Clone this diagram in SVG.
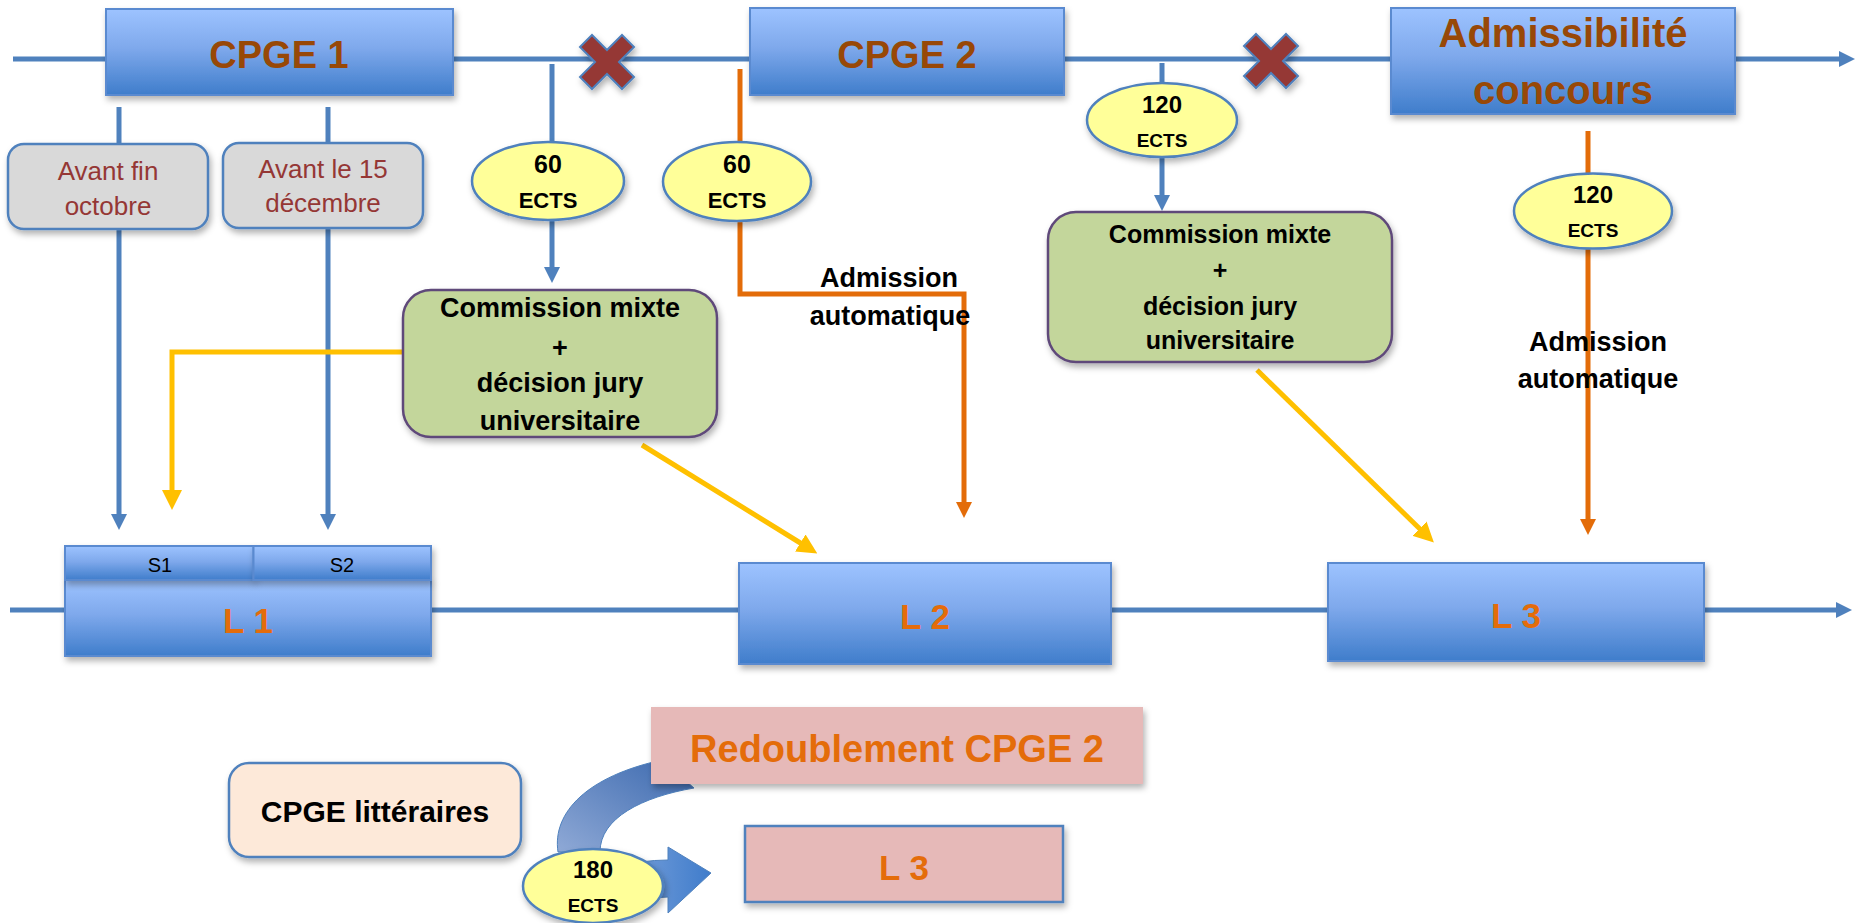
<svg xmlns="http://www.w3.org/2000/svg" width="1862" height="923" viewBox="0 0 1862 923">
<defs>
<style>
text{font-family:"Liberation Sans",Arial,sans-serif;text-anchor:middle}
.b{font-weight:bold}
.ln{fill:none;stroke-width:5;stroke-linejoin:miter}
.blue{stroke:#4F81BD}
.org{stroke:#E36C09}
.yel{stroke:#FFC000}
.box{fill:url(#gBlue);stroke:#5A8AD0;stroke-width:2;filter:url(#sh)}
.grey{fill:#D9D9D9;stroke:#4F81BD;stroke-width:2.5;filter:url(#sh)}
.ell{fill:#FFFF99;stroke:#4F81BD;stroke-width:2.5;filter:url(#sh)}
.comm{fill:#C3D69B;stroke:#5F497A;stroke-width:2.5;filter:url(#sh)}
.cross{fill:#953735;stroke:#4F81BD;stroke-width:2;filter:url(#sh)}
.pink{fill:#E6B9B8;filter:url(#sh)}
.tTop{fill:#984807;font-weight:bold}
.tL{fill:#E46C0A;font-weight:bold}
.tGrey{fill:#953735;font-size:26px}
.tBlk{fill:#000;font-weight:bold}
</style>
<linearGradient id="gBlue" x1="0" y1="0" x2="0" y2="1">
<stop offset="0" stop-color="#9DC3FF"/>
<stop offset="0.45" stop-color="#7FA9EC"/>
<stop offset="1" stop-color="#3F7DCB"/>
</linearGradient>
<linearGradient id="gCurve" x1="0" y1="1" x2="1" y2="0">
<stop offset="0" stop-color="#8FA9D6"/>
<stop offset="1" stop-color="#3A68AE"/>
</linearGradient>
<linearGradient id="gStraight" x1="0" y1="0" x2="1" y2="0">
<stop offset="0" stop-color="#6E9AD8"/>
<stop offset="1" stop-color="#3F7CCB"/>
</linearGradient>
<filter id="sh" x="-10%" y="-10%" width="125%" height="140%">
<feDropShadow dx="2" dy="4" stdDeviation="3" flood-color="#000" flood-opacity="0.3"/>
</filter>
<marker id="aBlue" markerUnits="userSpaceOnUse" markerWidth="16" markerHeight="16" refX="2" refY="8" orient="auto"><path d="M0,0 L16,8 L0,16 z" fill="#4F81BD"/></marker>
<marker id="aOrg" markerUnits="userSpaceOnUse" markerWidth="16" markerHeight="16" refX="2" refY="8" orient="auto"><path d="M0,0 L16,8 L0,16 z" fill="#E36C09"/></marker>
<marker id="aYel" markerUnits="userSpaceOnUse" markerWidth="20" markerHeight="20" refX="2" refY="10" orient="auto"><path d="M0,0 L20,10 L0,20 z" fill="#FFC000"/></marker>
<polygon id="xShape" points="-27,-15 -15,-27 0,-12 15,-27 27,-15 12,0 27,15 15,27 0,12 -15,27 -27,15 -12,0"/>
</defs>
<rect width="1862" height="923" fill="#fff"/>

<g id="connectors">
<path class="ln blue" d="M13 59 H1841" marker-end="url(#aBlue)"/>
<path class="ln blue" d="M10 610 H1838" marker-end="url(#aBlue)"/>
<path class="ln blue" d="M119 107 V516" marker-end="url(#aBlue)"/>
<path class="ln blue" d="M328 107 V516" marker-end="url(#aBlue)"/>
<path class="ln blue" d="M552 64 V269" marker-end="url(#aBlue)"/>
<path class="ln blue" d="M1162 63 V197" marker-end="url(#aBlue)"/>
<path class="ln org" d="M740 69 V294 H964 V504" marker-end="url(#aOrg)"/>
<path class="ln org" d="M1588 131 V521" marker-end="url(#aOrg)"/>
<path class="ln yel" d="M402 352 H172 V492" marker-end="url(#aYel)"/>
<path class="ln yel" d="M642 445 L802 544" marker-end="url(#aYel)"/>
<path class="ln yel" d="M1257 370 L1421 530" marker-end="url(#aYel)"/>
</g>

<g id="cpge1"><rect class="box" x="106" y="9" width="347" height="86"/><text class="tTop" x="279" y="68" font-size="38">CPGE 1</text></g>
<g id="cpge2"><rect class="box" x="750" y="8" width="314" height="87"/><text class="tTop" x="907" y="68" font-size="38">CPGE 2</text></g>
<g id="admissibilite"><rect class="box" x="1391" y="8" width="344" height="106"/><text class="tTop" x="1563" y="47" font-size="40">Admissibilité</text><text class="tTop" x="1563" y="104" font-size="40">concours</text></g>
<g id="cross1"><use href="#xShape" class="cross" transform="translate(607,62)"/></g>
<g id="cross2"><use href="#xShape" class="cross" transform="translate(1271,61)"/></g>

<g id="avant-octobre"><rect class="grey" x="8" y="144" width="200" height="85" rx="16"/><text class="tGrey" x="108" y="180">Avant fin</text><text class="tGrey" x="108" y="215">octobre</text></g>
<g id="avant-decembre"><rect class="grey" x="223" y="143" width="200" height="85" rx="16"/><text class="tGrey" x="323" y="178">Avant le 15</text><text class="tGrey" x="323" y="212">décembre</text></g>

<g id="ects60a"><ellipse class="ell" cx="548" cy="181" rx="76" ry="39"/><text class="tBlk" x="548" y="173" font-size="25">60</text><text class="tBlk" x="548" y="208" font-size="22">ECTS</text></g>
<g id="ects60b"><ellipse class="ell" cx="737" cy="181.5" rx="74" ry="39.5"/><text class="tBlk" x="737" y="173" font-size="25">60</text><text class="tBlk" x="737" y="208" font-size="22">ECTS</text></g>
<g id="ects120a"><ellipse class="ell" cx="1162" cy="120" rx="75" ry="37"/><text class="tBlk" x="1162" y="113" font-size="24">120</text><text class="tBlk" x="1162" y="147" font-size="19">ECTS</text></g>
<g id="ects120b"><ellipse class="ell" cx="1593" cy="211" rx="79" ry="37.5"/><text class="tBlk" x="1593" y="203" font-size="24">120</text><text class="tBlk" x="1593" y="237" font-size="19">ECTS</text></g>

<g id="commission1"><rect class="comm" x="403" y="290" width="314" height="147" rx="28"/>
<text class="tBlk" x="560" y="317" font-size="27">Commission mixte</text><text class="tBlk" x="560" y="357" font-size="27">+</text><text class="tBlk" x="560" y="392" font-size="27">décision jury</text><text class="tBlk" x="560" y="430" font-size="27">universitaire</text></g>
<g id="commission2"><rect class="comm" x="1048" y="212" width="344" height="150" rx="28"/>
<text class="tBlk" x="1220" y="243" font-size="25">Commission mixte</text><text class="tBlk" x="1220" y="279" font-size="25">+</text><text class="tBlk" x="1220" y="315" font-size="25">décision jury</text><text class="tBlk" x="1220" y="349" font-size="25">universitaire</text></g>

<g id="admission1"><text class="tBlk" x="889" y="287" font-size="27">Admission</text><text class="tBlk" x="890" y="325" font-size="27">automatique</text></g>
<g id="admission2"><text class="tBlk" x="1598" y="351" font-size="27">Admission</text><text class="tBlk" x="1598" y="388" font-size="27">automatique</text></g>

<g id="L1"><rect class="box" x="65" y="580" width="366" height="76"/><rect class="box" x="65" y="546" width="188.5" height="34"/><rect class="box" x="253.5" y="546" width="177.5" height="34"/>
<text x="160" y="572" font-size="20" fill="#000">S1</text><text x="342" y="572" font-size="20" fill="#000">S2</text>
<text class="tL" x="248" y="633" font-size="35">L 1</text></g>
<g id="L2"><rect class="box" x="739" y="563" width="372" height="101"/><text class="tL" x="925" y="629" font-size="35">L 2</text></g>
<g id="L3"><rect class="box" x="1328" y="563" width="376" height="98"/><text class="tL" x="1516" y="628" font-size="35">L 3</text></g>

<g id="curved-arrow"><path d="M558 852 C552 812 588 776 662 760 L694 788 C642 797 600 818 600 852 Z" fill="url(#gCurve)" stroke="#4F81BD" stroke-width="1"/></g>
<g id="straight-arrow"><path d="M640 862 Q655 860 668 860 L668 847 L711 873 L668 913 L668 897 Q655 897 642 900 Z" fill="url(#gStraight)" stroke="#4F81BD" stroke-width="1"/></g>

<g id="cpge-litteraires"><rect x="229" y="763" width="292" height="94" rx="20" fill="#FDE9D9" stroke="#4F81BD" stroke-width="2.5" filter="url(#sh)"/><text class="tBlk" x="375" y="822" font-size="30">CPGE littéraires</text></g>
<g id="redoublement"><rect class="pink" x="651" y="707" width="492" height="77"/><text class="tL" x="897" y="762" font-size="38">Redoublement CPGE 2</text></g>
<g id="L3-pink"><rect class="pink" x="745" y="826" width="318" height="76" stroke="#4F81BD" stroke-width="2.5"/><text class="tL" x="904" y="880" font-size="35">L 3</text></g>
<g id="ects180"><ellipse class="ell" cx="593" cy="886" rx="70" ry="37"/><text class="tBlk" x="593" y="878" font-size="24">180</text><text class="tBlk" x="593" y="912" font-size="19">ECTS</text></g>
</svg>
